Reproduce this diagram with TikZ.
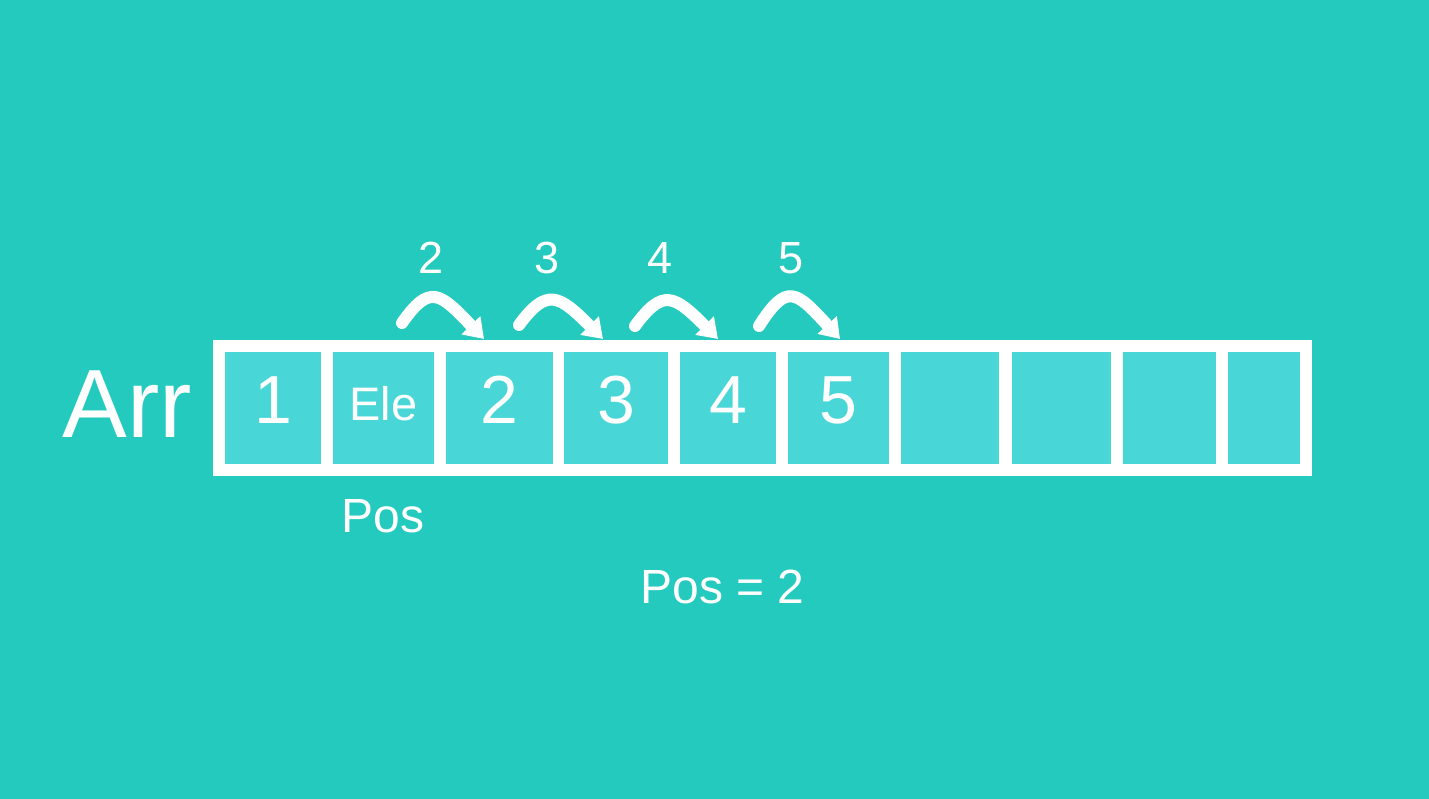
\documentclass[tikz,border=0pt]{standalone}
\usepackage{fontspec}
\setmainfont{Liberation Sans}
\usetikzlibrary{arrows.meta}
\definecolor{bgteal}{RGB}{36,202,189}
\definecolor{cellteal}{RGB}{73,214,215}
\newcommand{\fsz}[1]{\fontsize{#1}{#1}\selectfont}

\tikzset{
  cell/.style={fill=cellteal, minimum height=112pt, inner sep=0pt, text=white, font=\fsz{68}, text depth=16pt},
  hop/.style={white, line width=12pt, line cap=round, -{Triangle[length=19pt,width=25pt]}},
  lbl/.style={text=white, anchor=base, inner sep=0pt}
}

\begin{document}
\begin{tikzpicture}[x=1pt, y=-1pt]
    % Background
    \fill[bgteal] (0,0) rectangle (1429,799);
    \useasboundingbox (0,0) rectangle (1429,799);

    % Array frame
    \fill[white] (213,340) rectangle (1312,476);

    % Cells
    \node[cell, minimum width=96pt]  (c1)  at (273,408)    {1};
    \node[cell, minimum width=101pt, font=\fsz{47}, text depth=10pt] (c2) at (383.5,408) {Ele};
    \node[cell, minimum width=107pt] (c3)  at (499.5,408)  {2};
    \node[cell, minimum width=104pt] (c4)  at (616,408)    {3};
    \node[cell, minimum width=96pt]  (c5)  at (728,408)    {4};
    \node[cell, minimum width=101pt] (c6)  at (838.5,408)  {5};
    \node[cell, minimum width=98pt]  (c7)  at (950,408)    {};
    \node[cell, minimum width=99pt]  (c8)  at (1061.5,408) {};
    \node[cell, minimum width=93pt]  (c9)  at (1169.5,408) {};
    \node[cell, minimum width=72pt]  (c10) at (1264,408)   {};

    % Labels
    \node[lbl, font=\fsz{97}] (arr) at (127,437) {Arr};
    \node[lbl, font=\fsz{48}] (pos) at (383,532) {Pos};
    \node[lbl, font=\fsz{48}] (poseq) at (722.5,603) {Pos = 2};

    % Shift arrows
    \coordinate (h1s) at (402,323);
    \coordinate (h1e) at (484,339);
    \coordinate (h2s) at (519,325);
    \coordinate (h2e) at (603,339);
    \coordinate (h3s) at (635,326);
    \coordinate (h3e) at (718,339);
    \coordinate (h4s) at (759,326);
    \coordinate (h4e) at (840,339);
    \draw[hop] (h1s) .. controls +(28,-40) and +(-44,-46) .. (h1e);
    \draw[hop] (h2s) .. controls +(28,-38) and +(-44,-44) .. (h2e);
    \draw[hop] (h3s) .. controls +(28,-38) and +(-44,-44) .. (h3e);
    \draw[hop] (h4s) .. controls +(28,-44) and +(-44,-48) .. (h4e);

    % Arrow numbers
    \node[lbl, font=\fsz{45}] (n2) at (431,274) {2};
    \node[lbl, font=\fsz{45}] (n3) at (547,274) {3};
    \node[lbl, font=\fsz{45}] (n4) at (660.5,274) {4};
    \node[lbl, font=\fsz{45}] (n5) at (791,274) {5};
\end{tikzpicture}
\end{document}
